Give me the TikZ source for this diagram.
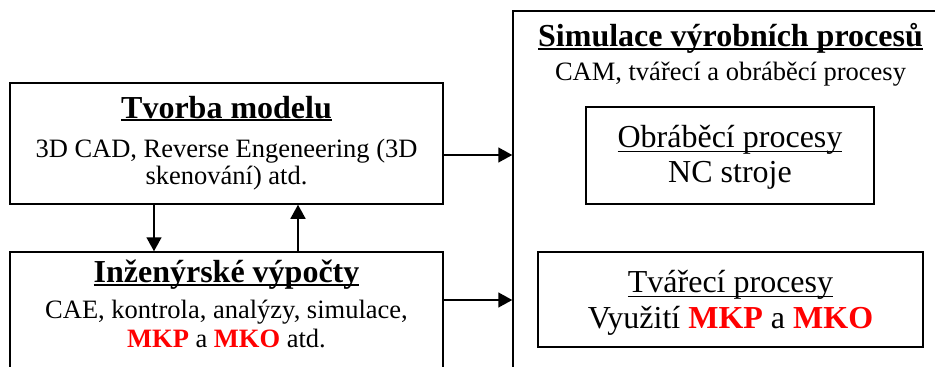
\documentclass[tikz,border=0pt]{standalone}
\usepackage{fontspec}
\setmainfont{Liberation Serif}
\usetikzlibrary{arrows.meta}
\definecolor{mkred}{RGB}{255,0,0}
\newcommand\ulin[3]{\setbox0=\hbox{#3}\rlap{\rule[-#1]{\wd0}{#2}}\box0}
\newcommand\bigsz{\fontsize{32pt}{36pt}\selectfont}
\newcommand\bodysz{\fontsize{26.5pt}{30pt}\selectfont}
\newcommand\redb[1]{\textcolor{mkred}{\textbf{#1}}}
\tikzset{
  box/.style={draw=black, line width=1.5pt, inner sep=0pt},
  txt/.style={inner sep=0pt, anchor=base},
  arr/.style={line width=1.5pt, -{Triangle[length=14pt,width=15pt]}}
}
\begin{document}
\begin{tikzpicture}[x=1pt,y=-1pt]
\useasboundingbox (0,0) rectangle (935,367);
\clip (0,0) rectangle (935,367);
% left top box
\node[box, minimum width=433pt, minimum height=121pt] (m) at (226.5,143.5) {};
\node[txt] (mt) at (226.5,118) {\bigsz\bfseries\ulin{3pt}{2.5pt}{Tvorba modelu}};
\node[txt] (m2) at (226.5,157) {\bodysz 3D CAD, Reverse Engeneering (3D};
\node[txt] (m3) at (226.5,184) {\bodysz skenování) atd.};
% left bottom box
\node[box, minimum width=433pt, minimum height=148pt] (c) at (226.5,326) {};
\node[txt] (ct) at (226.5,282) {\bigsz\bfseries\ulin{4pt}{2.5pt}{Inženýrské výpočty}};
\node[txt] (c2) at (226.5,318) {\bodysz CAE, kontrola, analýzy, simulace,};
\node[txt] (c3) at (226.5,347) {\bodysz \redb{MKP} a \redb{MKO} atd.};
% right big box
\node[box, minimum width=437pt, minimum height=389pt] (s) at (731.5,205.5) {};
\node[txt] (st) at (730.5,46) {\bigsz\bfseries\ulin{4pt}{2.5pt}{Simulace výrobních procesů}};
\node[txt] (s2) at (730.5,80) {\bodysz CAM, tvářecí a obráběcí procesy};
% inner boxes
\node[box, minimum width=288pt, minimum height=97pt] (o) at (730,155.5) {};
\node[txt] (ot) at (730,147) {\bigsz\ulin{5pt}{1.5pt}{Obráběcí procesy}};
\node[txt] (o2) at (730,182) {\bigsz NC stroje};
\node[box, minimum width=385pt, minimum height=95pt] (t) at (730.5,299.5) {};
\node[txt] (tt) at (730.5,292) {\bigsz\ulin{5pt}{1.5pt}{Tvářecí procesy}};
\node[txt] (t2) at (730.5,328) {\bigsz Využití \redb{MKP} a \redb{MKO}};
% connectors
\coordinate (a1) at ([yshift=-11.5pt]m.east);
\draw[arr] (a1) -- (a1 -| s.west);
\coordinate (a2) at ([yshift=26pt]c.east);
\draw[arr] (a2) -- (a2 -| s.west);
\coordinate (d1) at ([xshift=-72.5pt]m.south);
\draw[arr] (d1) -- (d1 |- c.north);
\coordinate (u1) at ([xshift=71.5pt]c.north);
\draw[arr] (u1) -- (u1 |- m.south);
\end{tikzpicture}
\end{document}
